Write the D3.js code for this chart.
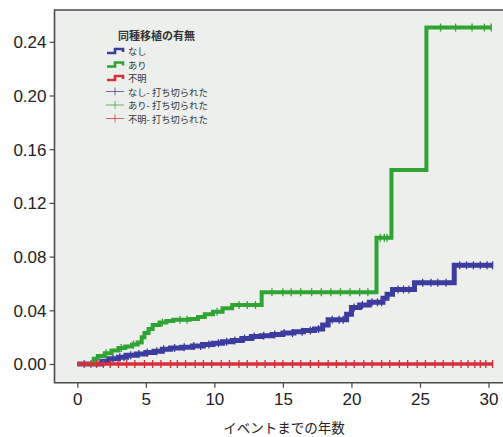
<!DOCTYPE html>
<html><head><meta charset="utf-8">
<script src="https://cdn.jsdelivr.net/npm/d3@7"></script>
<style>body{margin:0;background:#fff}svg{display:block}</style>
</head><body>
<svg id="c" width="503" height="437"></svg>
<script>
// ---- data ----
const xTicks = [0,5,10,15,20,25,30];
const yTicks = [0.00,0.04,0.08,0.12,0.16,0.20,0.24];
const xTitle = "イベントまでの年数";
const legendTitle = "同種移植の有無";
const seriesNames = ["なし","あり","不明"];
const censorNames = ["なし- 打ち切られた","あり- 打ち切られた","不明- 打ち切られた"];
const colors = ["#3c3c9e","#30a433","#d3303c"];

const blueTimes = [0,1.8,2.3,3.0,3.6,4.3,5.0,5.6,6.2,6.8,7.6,8.4,9.2,9.9,10.6,11.3,12.0,12.7,13.4,14.2,15.0,15.8,16.5,17.3,17.9,18.3,19.65,20.0,20.6,21.3,22.3,22.6,23.0,24.6,27.5,30.3];
const blueValues = [0,0.002,0.004,0.005,0.0065,0.0075,0.0085,0.0095,0.011,0.012,0.0125,0.0135,0.0145,0.0155,0.0165,0.0175,0.019,0.0205,0.021,0.022,0.023,0.024,0.025,0.026,0.029,0.033,0.037,0.042,0.044,0.046,0.049,0.052,0.0555,0.0605,0.0735,0.0735];
const greenTimes = [0,1.2,1.5,2.0,2.5,3.0,3.5,4.0,4.4,4.7,4.9,5.2,5.5,6.0,6.5,7.0,8.2,8.8,9.3,9.9,10.6,11.3,13.45,21.83,22.92,25.47,30.2];
const greenValues = [0,0.004,0.006,0.008,0.010,0.012,0.013,0.0145,0.016,0.020,0.023,0.026,0.029,0.031,0.032,0.033,0.0335,0.035,0.037,0.039,0.0415,0.044,0.0535,0.094,0.1446,0.2506,0.2506];
const redTimes = [0,30.3];
const redValues = [0,0];

const blueCensor = [2.2,2.6,3.1,3.4,3.9,4.5,5.1,5.8,6.3,7.1,7.8,8.5,9.0,9.6,10.3,10.9,11.5,12.2,12.9,13.6,14.4,15.1,15.7,16.4,17.0,17.6,18.6,19.1,19.4,20.2,20.8,21.5,21.9,22.2,23.4,23.8,24.2,25.2,25.8,26.3,26.9,27.9,28.4,28.9,29.4,29.9,30.3];
const greenCensor = [2.1,3.2,4.1,6.2,7.5,8.0,10.2,11.8,12.4,13.0,14.2,15.0,15.6,16.3,17.1,17.8,18.5,19.2,19.9,20.6,21.2,22.1,22.4,22.6,26.5,27.6,28.8,29.7,30.2];
const redCensor = [0.5,1.0,1.4,1.9,2.4,3.0,3.6,4.2,4.9,5.5,6.1,6.8,7.3,7.9,8.6,9.2,9.8,10.5,11.1,11.8,12.4,13.1,13.7,14.4,15.0,15.7,16.3,17.0,17.6,18.3,18.9,19.6,20.2,20.9,21.5,22.2,22.8,23.5,24.1,24.8,25.4,26.1,26.7,27.4,28.0,28.5,29.0,29.4,29.8,30.3];

// ---- chart ----
const svg = d3.select("#c");
const x = d3.scaleLinear().domain([0,30]).range([77.3,488.5]);
const y = d3.scaleLinear().domain([0,0.24]).range([364,41.8]);
const L = 54.5, T = 10, B = 382.7, R = 515;
const numFont = "'Liberation Sans', Arial, sans-serif";
const jpFont = "'Noto Sans CJK JP', sans-serif";

svg.append("rect").attr("x",L).attr("y",T).attr("width",R-L).attr("height",B-T).attr("fill","#edefed");
svg.append("path").attr("d",`M${R},${T}H${L}V${B}H${R}`).attr("fill","none").attr("stroke","#4a4a4a").attr("stroke-width",1.6);

// axes
const ya = svg.append("g").attr("transform",`translate(${L},0)`)
  .call(d3.axisLeft(y).tickValues(yTicks).tickFormat(d3.format(".2f")).tickSize(5).tickPadding(3));
const xa = svg.append("g").attr("transform",`translate(0,${B})`)
  .call(d3.axisBottom(x).tickValues(xTicks).tickSize(5).tickPadding(5));
[ya,xa].forEach(a=>{
  a.select(".domain").remove();
  a.selectAll(".tick line").attr("stroke","#444").attr("stroke-width",1.2);
  a.selectAll("text").attr("font-family",numFont).attr("font-size",17).attr("fill","#222");
});
ya.selectAll("text").attr("dy","0.35em");
svg.append("text").attr("x",284).attr("y",427).attr("text-anchor","middle").attr("dominant-baseline","central")
  .attr("font-family",jpFont).attr("font-size",13.5).attr("fill","#222").text(xTitle);

// curves
const series = [
  {t:blueTimes, v:blueValues, c:blueCensor, col:colors[0], w:5},
  {t:greenTimes, v:greenValues, c:greenCensor, col:colors[1], w:4},
  {t:redTimes, v:redValues, c:redCensor, col:colors[2], w:3.6}
];
const line = d3.line().curve(d3.curveStepAfter).x(d=>x(d[0])).y(d=>y(d[1]));
function valAt(s,t){ let v=0; for(let i=0;i<s.t.length;i++){ if(s.t[i]<=t) v=s.v[i]; } return v; }
series.forEach(s=>{
  svg.append("path").attr("d",line(s.t.map((t,i)=>[t,s.v[i]])))
    .attr("fill","none").attr("stroke",s.col).attr("stroke-width",s.w);
  svg.append("g").selectAll("line").data(s.c).join("line")
    .attr("x1",d=>x(d)).attr("x2",d=>x(d))
    .attr("y1",d=>y(valAt(s,d))-4).attr("y2",d=>y(valAt(s,d))+4)
    .attr("stroke",s.col).attr("stroke-width",1.3);
});

// legend
const lg = svg.append("g");
lg.append("text").attr("x",118).attr("y",35).attr("dominant-baseline","central")
  .attr("font-family",jpFont).attr("font-size",11).attr("font-weight","bold").attr("fill","#333").text(legendTitle);
const rowsY = [51,64.5,78,91.5,105,118.5];
seriesNames.forEach((n,i)=>{
  const yy = rowsY[i];
  lg.append("path").attr("d",`M107,${yy+2}H115V${yy-2}H123V${yy+1}`).attr("fill","none")
    .attr("stroke",colors[i]).attr("stroke-width",2.6);
  lg.append("text").attr("x",128).attr("y",yy).attr("dominant-baseline","central")
    .attr("font-family",jpFont).attr("font-size",9.3).attr("fill","#333").text(n);
});
censorNames.forEach((n,i)=>{
  const yy = rowsY[i+3];
  lg.append("line").attr("x1",106).attr("x2",124).attr("y1",yy).attr("y2",yy).attr("stroke",colors[i]).attr("stroke-width",1).attr("opacity",0.75);
  lg.append("line").attr("x1",115).attr("x2",115).attr("y1",yy-4).attr("y2",yy+4).attr("stroke",colors[i]).attr("stroke-width",1).attr("opacity",0.75);
  lg.append("text").attr("x",128).attr("y",yy).attr("dominant-baseline","central")
    .attr("font-family",jpFont).attr("font-size",9.3).attr("fill","#333").text(n);
});
</script>
</body></html>
